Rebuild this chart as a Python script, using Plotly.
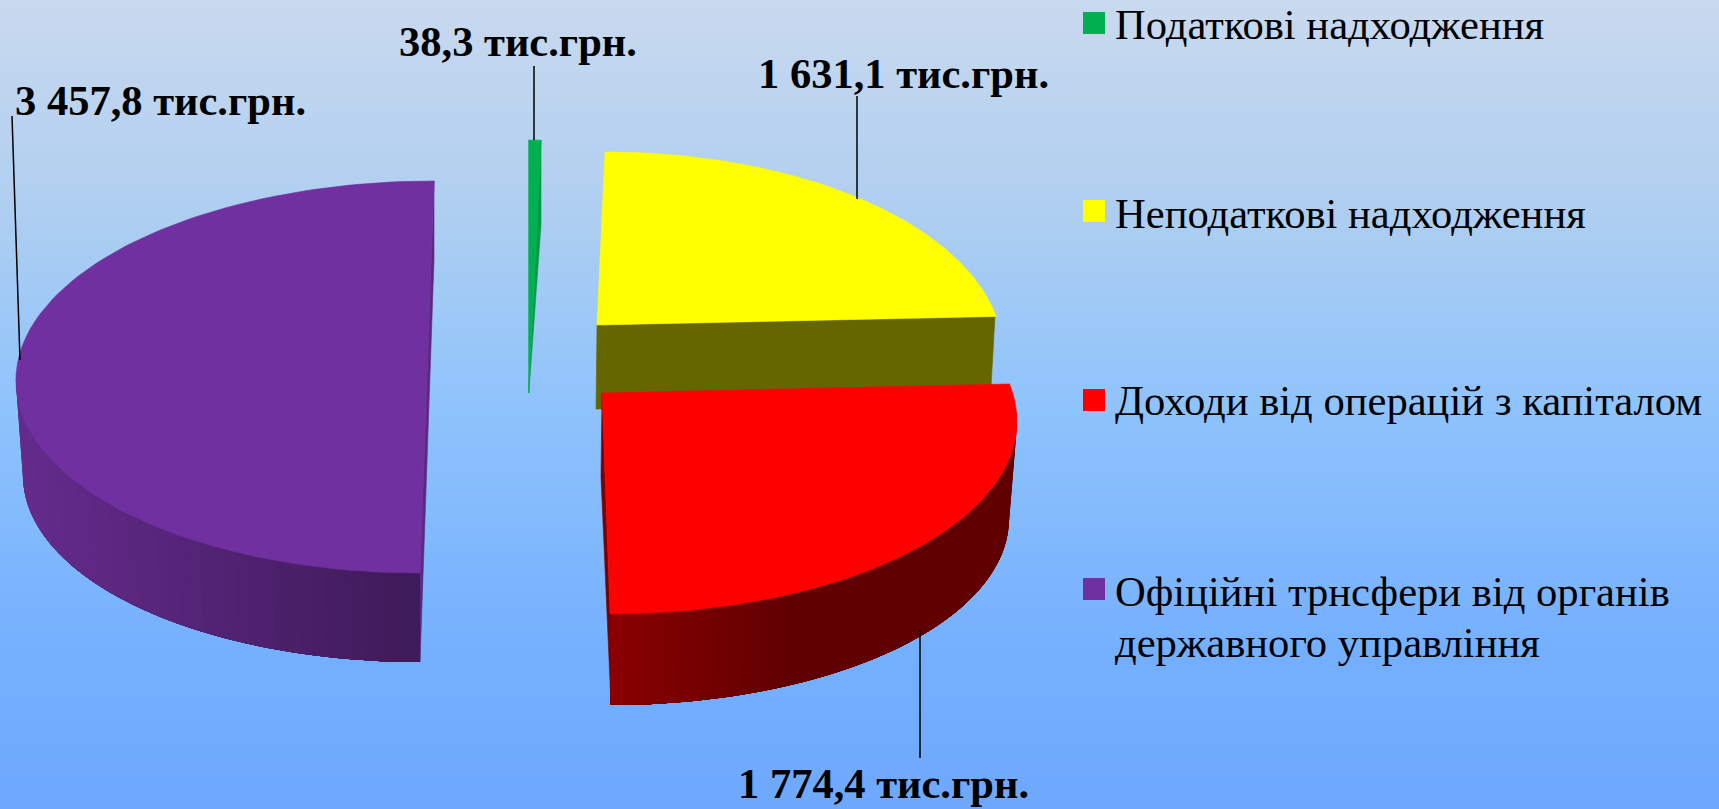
import numpy as np
import plotly.graph_objects as go

# ---- data ----
categories = ["Податкові надходження", "Неподаткові надходження",
              "Доходи від операцій з капіталом",
              "Офіційні трнсфери від органів<br>державного управління"]
values = [38.3, 1631.1, 1774.4, 3457.8]

# ---- style ----
W, H = 1719, 809
FONT = "Liberation Serif"
face_colors = ["#00B050", "#FFFF00", "#FF0000", "#7030A0"]
# 3D look of each slice: apex, ellipse centre and radii, shear, first visual angle, angular stretch
views = [
    dict(apex=(528.6, 393), c=(528.6, 393), a=358, b=253, s=0, start=0, stretch=1.0),
    dict(apex=(597, 325), c=(600, 356.5), a=403, b=204.5, s=5, start=0, stretch=0.925),
    dict(apex=(602, 393), c=(603, 418), a=414, b=196, s=-7, start=80, stretch=1.08),
    dict(apex=None, c=(427, 377), a=411, b=196, s=7, start=180, stretch=0.998),
]
label_pos = [(399, 41), (758, 73), (738, 783), (15, 100)]
leaders = [((534, 66), (534, 140)), ((857, 96), (857, 199)),
           ((920, 630), (920, 758)), ((12, 116), (20, 360))]
legend_y = [23, 211, 400, 589]
legend_text_y = [[24], [213], [400], [591, 642]]

bg_stops = [[0, "#C9D9EF"], [0.25, "#B0CFF0"], [0.5, "#8FC3FC"], [0.8, "#75B0FF"], [1, "#6EA8FE"]]

fig = go.Figure()
fig.add_trace(go.Heatmap(z=np.linspace(0, 1, 256).reshape(-1, 1).repeat(2, axis=1),
                         x=[0, W], y=np.linspace(0, H, 256), colorscale=bg_stops,
                         showscale=False, hoverinfo="skip", zsmooth="best"))


def arc(v, th):
    t = np.radians(th)
    return (v["c"][0] + v["a"] * np.sin(t) + v["s"] * np.cos(t),
            v["c"][1] - v["b"] * np.cos(t))


def poly(x, y, color, name=None, lw=0.6):
    fig.add_trace(go.Scatter(x=list(x), y=list(y), mode="lines", fill="toself", fillcolor=color,
                             line=dict(color=color, width=lw), showlegend=False,
                             hoverinfo="skip" if name is None else "text", text=name))


def mix(c1, c2, f):
    f = min(max(f, 0), 1)
    return "rgb(%d,%d,%d)" % tuple(round(a + (b - a) * f) for a, b in zip(c1, c2))


def wall(view, dy, a2, b2, th_near, th_far, c_near, c_far, x_near, x_far, n=48):
    """Painted far to near: every band reaches to the near end, so no seams show."""
    low = dict(view, c=(view["c"][0], view["c"][1] + dy), a=a2, b=b2)
    for p in np.linspace(th_far, th_near, n, endpoint=False):
        th = np.linspace(p, th_near, 60)
        xt, yt = arc(view, th)
        xb, yb = arc(low, th)
        f = (xt[0] - x_near) / (x_far - x_near)
        poly(np.r_[xt, xb[::-1], xt[0]], np.r_[yt, yb[::-1], yt[0]], mix(c_near, c_far, f), lw=0)


total = sum(values)
spans = [v / total * 360 for v in values]

# inner / outer walls, back to front
gv, yv, rv, pv = views
poly([434, 434, 420, 420, 434], [181, 260, 662, 572, 181], "#5A2A80")
wall(pv, 95, 404, 190, 180, 272, (0x3D, 0x1A, 0x58), (0x64, 0x2B, 0x8C), 420, 20)
poly([541, 541, 528.8, 541], [140, 225, 393, 140], "#009A48")
poly([597, 995, 990, 596, 597], [325, 316, 405, 409, 325], "#666600")

for i, (v, span) in enumerate(zip(views, spans)):
    if i == 2:
        poly([602, 601, 611, 610, 602], [393, 477, 704, 614, 393], "#7A0000")
        wall(v, 97, 406, 190, 180, 90, (0x8B, 0, 0), (0x60, 0, 0), 610, 800)
    th = np.linspace(v["start"], v["start"] + span * v["stretch"], 120)
    x, y = arc(v, th)
    if v["apex"] is not None:
        x = np.r_[v["apex"][0], x, v["apex"][0]]
        y = np.r_[v["apex"][1], y, v["apex"][1]]
    else:
        x, y = np.r_[x, x[0]], np.r_[y, y[0]]
    poly(x, y, face_colors[i], name=categories[i])

# leader lines
for (p, q) in leaders:
    fig.add_trace(go.Scatter(x=[p[0], q[0]], y=[p[1], q[1]], mode="lines",
                             line=dict(color="#000000", width=1.5), showlegend=False, hoverinfo="skip"))

# legend squares
fig.add_trace(go.Scatter(x=[1094] * 4, y=legend_y, mode="markers", showlegend=False, hoverinfo="skip",
                         marker=dict(symbol="square", size=22, color=face_colors, line_width=0)))

ann = []
for v, (x, y) in zip(values, label_pos):
    txt = f"{v:,.1f}".replace(",", " ").replace(".", ",") + " тис.грн."
    ann.append(dict(x=x, y=y, xref="x", yref="y", text=f"<b>{txt}</b>", showarrow=False, xanchor="left",
                    yanchor="middle", font=dict(family=FONT, size=42.5, color="#000000"), xshift=-2))
for c, ys in zip(categories, legend_text_y):
    for line, y in zip(c.split("<br>"), ys):
        ann.append(dict(x=1115, y=y, xref="x", yref="y", text=line, showarrow=False, xanchor="left", align="left",
                        yanchor="middle", font=dict(family=FONT, size=42.6, color="#000000"), xshift=-2))

fig.update_layout(width=W, height=H, margin=dict(l=0, r=0, t=0, b=0), showlegend=False,
                  annotations=ann, paper_bgcolor="#8FC3FC", plot_bgcolor="#8FC3FC",
                  xaxis=dict(range=[0, W], visible=False, fixedrange=True),
                  yaxis=dict(range=[H, 0], visible=False, fixedrange=True))
fig.write_html("out.html", config=dict(displayModeBar=False),
               post_script="document.body.style.margin='0';document.body.style.overflow='hidden';")
